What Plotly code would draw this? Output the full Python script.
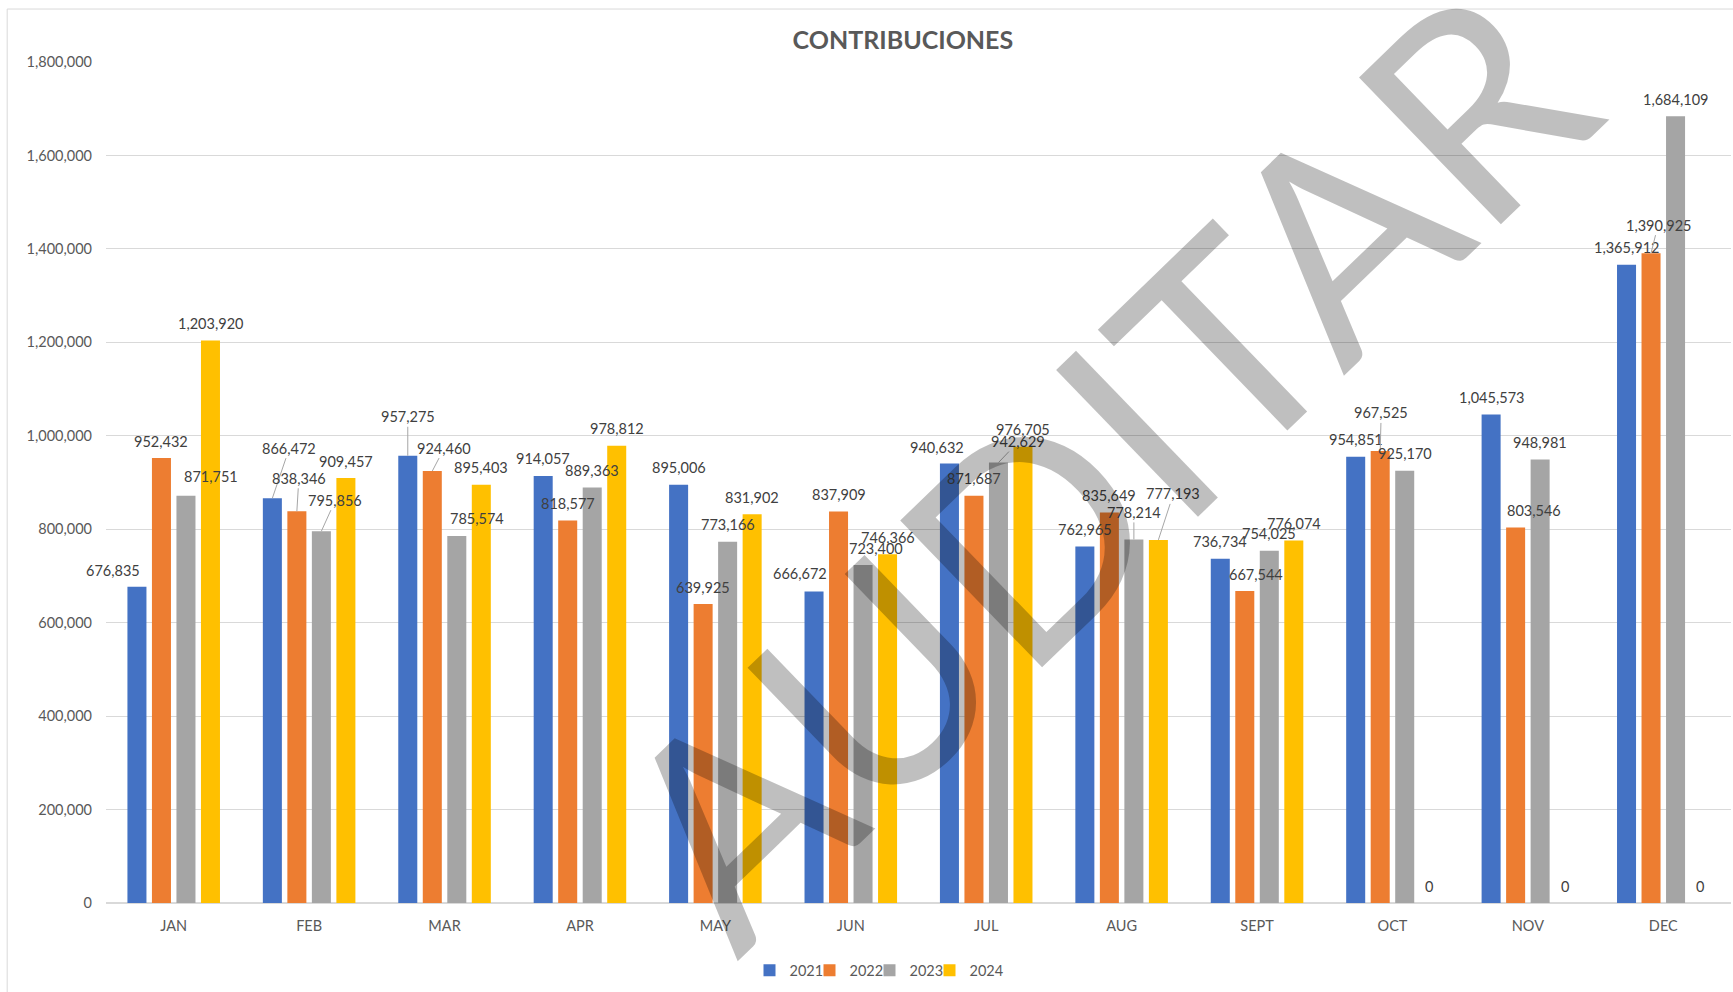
import plotly.graph_objects as go

# ---------------- data ----------------
months = ["JAN", "FEB", "MAR", "APR", "MAY", "JUN", "JUL", "AUG", "SEPT", "OCT", "NOV", "DEC"]
years = ["2021", "2022", "2023", "2024"]
v2021 = [676835, 866472, 957275, 914057, 895006, 666672, 940632, 762965, 736734, 954851, 1045573, 1365912]
v2022 = [952432, 838346, 924460, 818577, 639925, 837909, 871687, 835649, 667544, 967525, 803546, 1390925]
v2023 = [871751, 795856, 785574, 889363, 773166, 723400, 942629, 778214, 754025, 925170, 948981, 1684109]
v2024 = [1203920, 909457, 895403, 978812, 831902, 746366, 976705, 777193, 776074, 0, 0, 0]
y_ticks = [0, 200000, 400000, 600000, 800000, 1000000, 1200000, 1400000, 1600000, 1800000]
title_text = "CONTRIBUCIONES"
watermark_text = "AUDITAR"

series = [v2021, v2022, v2023, v2024]

# ---------------- styles ----------------
colors = ["#4472C4", "#ED7D31", "#A5A5A5", "#FFC000"]
FONT = "Lato, 'Open Sans', sans-serif"
TXT = "#595959"
LBL = "#404040"
GRID = "#D9D9D9"
BARGAP = 0.276
BARGROUPGAP = 0.224

# manual label moves (pixel offsets of the label from the bar top, leader line flag)
DEFAULT_MOVE = (0, 17, False)
LABEL_MOVES = {
    (0, 0): (-24, 16, False), (0, 1): (17, 50, True), (0, 2): (0, 39, True),
    (0, 5): (-14, 18, False), (0, 6): (-12, 16, False),
    (1, 1): (2, 33, True), (1, 2): (12, 23, True), (1, 8): (11, 17, False),
    (1, 9): (1, 38, True), (1, 10): (18, 17, False), (1, 11): (7, 28, True),
    (2, 0): (25, 19, False), (2, 1): (14, 31, True), (2, 2): (20, 17, False),
    (2, 5): (13, 17, False), (2, 6): (20, 21, True), (2, 7): (0, 27, True),
    (3, 7): (15, 46, True),
}

fig = go.Figure()
for k, (yr, vals) in enumerate(zip(years, series)):
    fig.add_trace(go.Bar(
        name=yr, x=months, y=vals, marker=dict(color=colors[k], line=dict(width=0)),
        hoverinfo="x+y+name",
        legendwidth=40 if k == len(series) - 1 else None,
    ))

annotations = []
slot = (1 - BARGAP) / len(series)
for k, vals in enumerate(series):
    for i, v in enumerate(vals):
        dx, dy, leader = LABEL_MOVES.get((k, i), DEFAULT_MOVE)
        annotations.append(dict(
            x=i + (k - (len(series) - 1) / 2) * slot, y=v, xref="x", yref="y",
            text=f"{v:,}", showarrow=True, ax=dx, ay=-dy, axref="pixel", ayref="pixel",
            arrowhead=0, arrowwidth=1, standoff=0,
            arrowcolor="#A6A6A6" if leader else "rgba(0,0,0,0)",
            font=dict(family=FONT, size=14.5, color=LBL),
        ))

# watermark
annotations.append(dict(
    text=watermark_text, xref="paper", yref="paper", x=0.610, y=0.526,
    showarrow=False, textangle=-44, xanchor="center", yanchor="middle",
    font=dict(family=FONT, size=285, color="rgba(0,0,0,0.25)"),
))

fig.update_layout(
    width=1733, height=992,
    margin=dict(l=106, r=2, t=62, b=88.5, pad=0),
    paper_bgcolor="white", plot_bgcolor="white",
    barmode="group", bargap=BARGAP, bargroupgap=BARGROUPGAP,
    title=dict(text=f"<b>{title_text}</b>", x=0.521, xref="container", xanchor="center",
               y=1 - 40 / 992, yref="container", yanchor="middle",
               font=dict(family=FONT, size=25, color=TXT)),
    font=dict(family=FONT, size=14.5, color=TXT),
    showlegend=True,
    legend=dict(orientation="h", x=0.396, xanchor="left", y=-0.080, yanchor="middle",
                itemwidth=30, entrywidth=15, entrywidthmode="pixels",
                font=dict(family=FONT, size=14.5, color=TXT),
                bgcolor="rgba(0,0,0,0)", traceorder="normal"),
    annotations=annotations,
    shapes=[dict(type="rect", xref="paper", yref="paper", x0=-0.0608, x1=1.2, y0=-0.3, y1=1.063,
                 line=dict(color=GRID, width=1), fillcolor="rgba(0,0,0,0)", layer="below")],
)
fig.update_xaxes(type="category", showgrid=False, showline=True, linecolor=GRID, linewidth=1,
                 ticks="", ticklabelstandoff=10, tickfont=dict(family=FONT, size=14.5, color=TXT),
                 range=[-0.5, len(months) - 0.5], fixedrange=True)
fig.update_yaxes(range=[0, 1800000], tickvals=y_ticks, tickformat=",", showgrid=True,
                 gridcolor=GRID, gridwidth=1, zeroline=True, zerolinecolor=GRID, showline=False,
                 ticks="", ticklabelstandoff=13, tickfont=dict(family=FONT, size=14.5, color=TXT),
                 fixedrange=True)

fig.write_html("out.html", config={"displayModeBar": False},
               post_script="document.body.style.margin='0';document.body.style.overflow='hidden';")
